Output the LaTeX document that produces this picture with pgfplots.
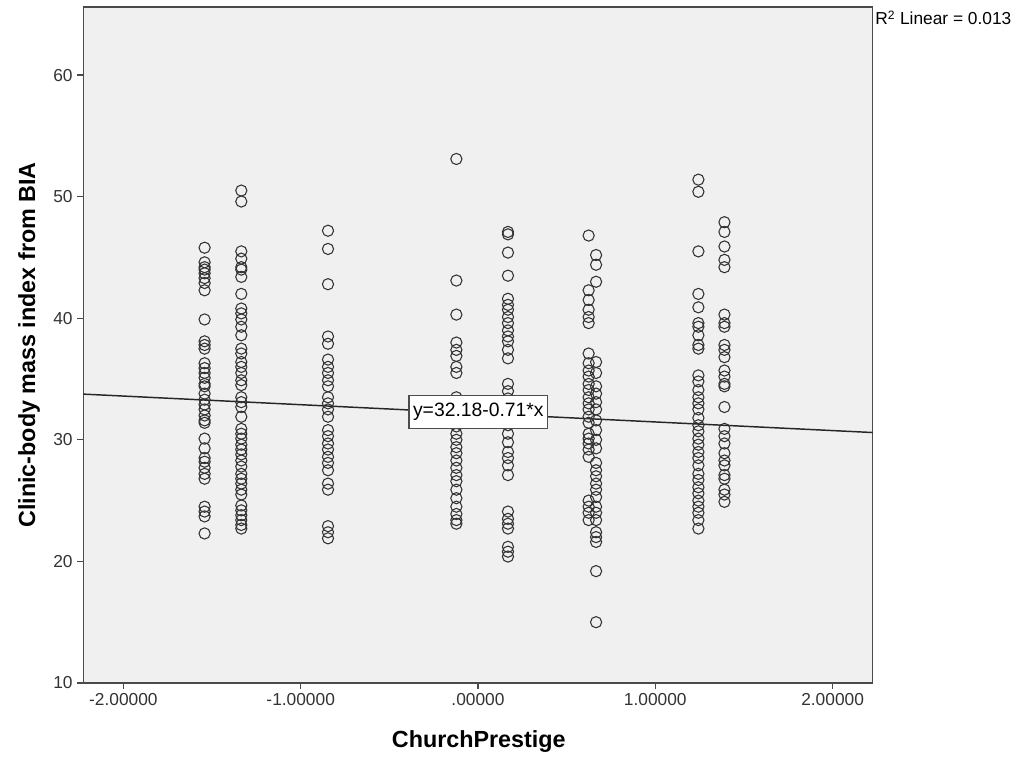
\documentclass[border=0pt]{standalone}
\usepackage{pgfplots}
\pgfplotsset{compat=1.18}
\usepackage{fontspec}
\setmainfont{Liberation Sans}
\definecolor{panelbg}{HTML}{F0F0F0}
\definecolor{framegray}{HTML}{4A4A4A}

\begin{document}
\begin{tikzpicture}
  % fixed page frame so the picture keeps the reference proportions
  \path[use as bounding box] (-62.5pt,-57pt) rectangle (701pt,512.25pt);

  \begin{axis}[
      scale only axis,
      width=592pt, height=507pt,
      xmin=-2.226, xmax=2.226,
      ymin=10, ymax=65.6,
      xtick={-2,-1,0,1,2},
      xticklabels={-2.00000,-1.00000,.00000,1.00000,2.00000},
      ytick={10,20,30,40,50,60},
      xtick pos=bottom, ytick pos=left,
      tick align=outside,
      major tick length=4.5pt,
      every tick/.style={framegray, line width=0.9pt},
      axis line style={framegray, line width=1.2pt},
      axis background/.style={fill=panelbg},
      /pgf/number format/assume math mode=true,
      ticklabel style={font=\fontsize{13}{15}\selectfont, text=black!80},
      xlabel={ChurchPrestige},
      ylabel={Clinic-body mass index from BIA},
      label style={font=\fontsize{17.5}{20}\selectfont\bfseries},
      xlabel style={at={(axis description cs:0.501,-0.0873)}, anchor=center},
      ylabel style={at={(axis description cs:-0.0688,0.5)}, anchor=center},
      clip=false,
    ]

    \addplot[only marks, mark=o, mark size=4.2pt,
             mark options={draw=black!80, line width=0.8pt}] table {
      x y
      -1.542 45.8
      -1.542 44.6
      -1.542 44.2
      -1.542 44.0
      -1.542 43.7
      -1.542 43.3
      -1.542 42.9
      -1.542 42.3
      -1.542 39.9
      -1.542 38.1
      -1.542 37.8
      -1.542 37.5
      -1.542 36.3
      -1.542 35.9
      -1.542 35.5
      -1.542 35.1
      -1.542 34.6
      -1.542 34.4
      -1.542 33.8
      -1.542 33.3
      -1.542 32.9
      -1.542 32.5
      -1.542 32.0
      -1.542 31.6
      -1.542 31.4
      -1.542 30.1
      -1.542 29.3
      -1.542 28.5
      -1.542 28.2
      -1.542 27.7
      -1.542 27.2
      -1.542 26.8
      -1.542 24.5
      -1.542 24.1
      -1.542 23.7
      -1.542 22.3
      -1.335 50.5
      -1.335 49.6
      -1.335 45.5
      -1.335 44.9
      -1.335 44.2
      -1.335 44.0
      -1.335 43.4
      -1.335 42.0
      -1.335 40.8
      -1.335 40.4
      -1.335 39.9
      -1.335 39.3
      -1.335 38.6
      -1.335 37.5
      -1.335 37.1
      -1.335 36.4
      -1.335 36.0
      -1.335 35.5
      -1.335 34.9
      -1.335 34.5
      -1.335 33.5
      -1.335 33.1
      -1.335 32.7
      -1.335 31.9
      -1.335 30.9
      -1.335 30.5
      -1.335 30.1
      -1.335 29.6
      -1.335 29.2
      -1.335 28.8
      -1.335 28.3
      -1.335 27.8
      -1.335 27.2
      -1.335 26.8
      -1.335 26.4
      -1.335 25.9
      -1.335 25.5
      -1.335 24.6
      -1.335 24.2
      -1.335 23.8
      -1.335 23.4
      -1.335 23.0
      -1.335 22.7
      -0.846 47.2
      -0.846 45.7
      -0.846 42.8
      -0.846 38.5
      -0.846 37.9
      -0.846 36.6
      -0.846 36.0
      -0.846 35.5
      -0.846 34.9
      -0.846 34.4
      -0.846 33.5
      -0.846 33.0
      -0.846 32.5
      -0.846 31.9
      -0.846 30.8
      -0.846 30.3
      -0.846 29.7
      -0.846 29.2
      -0.846 28.6
      -0.846 28.1
      -0.846 27.5
      -0.846 26.4
      -0.846 25.9
      -0.846 22.9
      -0.846 22.4
      -0.846 21.9
      -0.122 53.1
      -0.122 43.1
      -0.122 40.3
      -0.122 38.0
      -0.122 37.4
      -0.122 36.9
      -0.122 36.0
      -0.122 35.5
      -0.122 33.5
      -0.122 33.0
      -0.122 31.1
      -0.122 30.5
      -0.122 30.0
      -0.122 29.4
      -0.122 28.9
      -0.122 28.3
      -0.122 27.7
      -0.122 27.1
      -0.122 26.6
      -0.122 25.9
      -0.122 25.2
      -0.122 24.5
      -0.122 23.9
      -0.122 23.4
      -0.122 23.1
      0.169 47.1
      0.169 46.9
      0.169 45.4
      0.169 43.5
      0.169 41.6
      0.169 41.1
      0.169 40.7
      0.169 40.1
      0.169 39.6
      0.169 39.0
      0.169 38.5
      0.169 38.1
      0.169 37.4
      0.169 36.7
      0.169 34.6
      0.169 34.0
      0.169 33.4
      0.169 31.2
      0.169 30.5
      0.169 29.8
      0.169 29.0
      0.169 28.5
      0.169 27.9
      0.169 27.1
      0.169 24.1
      0.169 23.5
      0.169 23.1
      0.169 22.7
      0.169 21.2
      0.169 20.8
      0.169 20.4
      0.624 46.8
      0.624 42.3
      0.624 41.5
      0.624 40.7
      0.624 40.1
      0.624 39.6
      0.624 37.1
      0.624 36.3
      0.624 35.7
      0.624 35.2
      0.624 34.6
      0.624 34.1
      0.624 33.5
      0.624 33.0
      0.624 32.5
      0.624 31.9
      0.624 31.4
      0.624 30.5
      0.624 30.1
      0.624 29.7
      0.624 29.2
      0.624 28.6
      0.624 25.0
      0.624 24.5
      0.624 24.0
      0.624 23.4
      0.666 45.2
      0.666 44.4
      0.666 43.0
      0.666 36.4
      0.666 35.5
      0.666 34.4
      0.666 33.8
      0.666 33.1
      0.666 32.5
      0.666 31.6
      0.666 30.8
      0.666 30.0
      0.666 29.3
      0.666 28.1
      0.666 27.5
      0.666 27.0
      0.666 26.4
      0.666 25.9
      0.666 25.3
      0.666 24.5
      0.666 24.0
      0.666 23.4
      0.666 22.4
      0.666 22.0
      0.666 21.6
      0.666 19.2
      0.666 15.0
      1.243 51.4
      1.243 50.4
      1.243 45.5
      1.243 42.0
      1.243 40.9
      1.243 39.6
      1.243 39.3
      1.243 38.6
      1.243 37.8
      1.243 37.5
      1.243 35.3
      1.243 34.8
      1.243 34.1
      1.243 33.5
      1.243 33.0
      1.243 32.5
      1.243 31.8
      1.243 31.2
      1.243 30.7
      1.243 30.1
      1.243 29.6
      1.243 29.0
      1.243 28.5
      1.243 27.9
      1.243 27.2
      1.243 26.7
      1.243 26.1
      1.243 25.6
      1.243 25.0
      1.243 24.5
      1.243 24.0
      1.243 23.4
      1.243 22.7
      1.390 47.9
      1.390 47.1
      1.390 45.9
      1.390 44.8
      1.390 44.2
      1.390 40.3
      1.390 39.6
      1.390 39.3
      1.390 37.8
      1.390 37.4
      1.390 36.8
      1.390 35.7
      1.390 35.2
      1.390 34.6
      1.390 34.4
      1.390 32.7
      1.390 30.9
      1.390 30.3
      1.390 29.7
      1.390 28.9
      1.390 28.3
      1.390 27.9
      1.390 27.1
      1.390 26.8
      1.390 25.9
      1.390 25.5
      1.390 24.9
    };

    % fit line y = 32.18 - 0.71 x across the plot
    \addplot[black!85, line width=1.1pt] coordinates {(-2.226,33.76) (2.226,30.60)};

    \coordinate (fitbox) at (axis cs:0.002,32.29);

    \node[anchor=west, font=\fontsize{13}{15}\selectfont, inner sep=0pt]
      at (axis description cs:1.003,0.984) {R\textsuperscript{2} Linear = 0.013};
  \end{axis}

  % equation box goes on top of the markers
  \node[draw=black!70, fill=white, line width=1pt, inner xsep=3pt,
        minimum height=25pt, font=\fontsize{14.5}{16}\selectfont]
    at (fitbox) {y=32.18-0.71*x};
\end{tikzpicture}
\end{document}
